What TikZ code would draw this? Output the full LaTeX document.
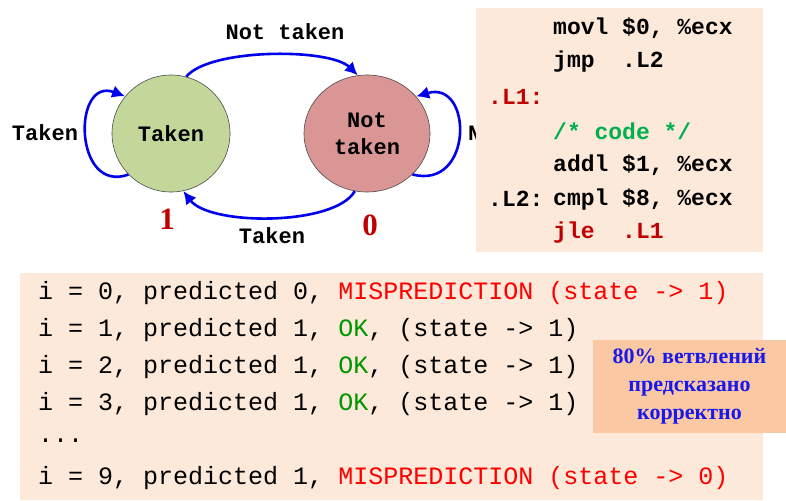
\documentclass[tikz,border=0pt]{standalone}
\usepackage{fontspec}
\setmainfont{Liberation Serif}
\setmonofont{Liberation Mono}
\usetikzlibrary{positioning,calc,shapes.geometric,arrows.meta}
\definecolor{TakenGreen}{RGB}{196,215,155}
\definecolor{NotRed}{RGB}{218,150,148}
\definecolor{CodeBg}{RGB}{253,233,217}
\definecolor{NoteBg}{RGB}{250,200,162}
\definecolor{AsmRed}{RGB}{192,0,0}
\definecolor{AsmGreen}{RGB}{0,176,80}
\definecolor{OkGreen}{RGB}{0,150,0}
\definecolor{MissRed}{RGB}{255,0,0}
\definecolor{EdgeBlue}{RGB}{0,0,235}
\definecolor{NoteBlue}{RGB}{25,25,235}
\tikzset{
  st/.style={ellipse,draw=black!70,line width=0.6pt,inner sep=0pt,align=center,
    minimum height=117pt,font=\ttfamily\bfseries\fontsize{22}{27}\selectfont},
  trans/.style={draw=EdgeBlue,line width=2.6pt,-{Latex[length=13pt,width=13pt]}},
  lbl/.style={font=\ttfamily\bfseries\fontsize{22}{26}\selectfont,inner sep=0pt},
  bitlbl/.style={font=\bfseries\fontsize{31}{34}\selectfont,text=AsmRed,inner sep=0pt},
  asm/.style={anchor=west,inner sep=0pt,font=\ttfamily\bfseries\fontsize{23}{26}\selectfont},
  trace/.style={anchor=west,inner sep=0pt,font=\ttfamily\fontsize{25}{28}\selectfont},
}

\begin{document}
\begin{tikzpicture}[x=1pt,y=-1pt]
  \useasboundingbox (0,0) rectangle (786,500);
  % states
  \node[st,fill=TakenGreen,minimum width=118pt] (T) at (171,133.5) {Taken};
  \node[st,fill=NotRed,minimum width=126pt] (N) at (367,133.5) {Not\\taken};
  % transitions
  \draw[trans] (T.75) .. controls (210,48) and (330,48) .. (N.99);
  \draw[trans] (N.258) .. controls (335,226) and (210,226) .. (T.282);
  \draw[trans] (T.224) .. controls +(-55,20) and +(-53,-20) .. (T.141);
  \draw[trans] (N.318) .. controls +(61,16) and +(57,-17) .. (N.37);
  \node[lbl] (nt) at (285,32) {Not taken};
  \node[lbl] (tl) at (45,133) {Taken};
  \node[lbl] (tb) at (272,236) {Taken};
  \begin{scope}
    \clip (460,110) rectangle (476,160);
    \node[lbl,anchor=west] (ntr) at (468,133) {Not taken};
  \end{scope}
  \node[bitlbl] (one) at (167,219) {1};
  \node[bitlbl] (zero) at (370,225) {0};
  % assembly
  \fill[CodeBg] (476,8) rectangle (763,252);
  \node[asm] (a1) at (553,28) {movl \$0, \%ecx};
  \node[asm] (a2) at (553,62) {jmp\ \ .L2};
  \node[asm,text=AsmRed] (l1) at (488,97) {.L1:};
  \node[asm,text=AsmGreen] (a3) at (553,131) {/* code */};
  \node[asm] (a4) at (553,165) {addl \$1, \%ecx};
  \node[asm] (l2) at (488,199) {.L2:};
  \node[asm] (a5) at (553,199) {cmpl \$8, \%ecx};
  \node[asm,text=AsmRed] (a6) at (553,233) {jle\ \ .L1};
  % trace
  \fill[CodeBg] (20,273) rectangle (763,500);
  \node[trace] (r0) at (38,293) {i = 0, predicted 0, \textcolor{MissRed}{MISPREDICTION (state -> 1)}};
  \node[trace] (r1) at (38,330) {i = 1, predicted 1, \textcolor{OkGreen}{OK}, (state -> 1)};
  \node[trace] (r2) at (38,367) {i = 2, predicted 1, \textcolor{OkGreen}{OK}, (state -> 1)};
  \node[trace] (r3) at (38,404) {i = 3, predicted 1, \textcolor{OkGreen}{OK}, (state -> 1)};
  \node[trace] (rd) at (38,441) {...};
  \node[trace] (r9) at (38,478) {i = 9, predicted 1, \textcolor{MissRed}{MISPREDICTION (state -> 0)}};
  \node[fill=NoteBg,minimum width=193pt,minimum height=93pt,align=center,text=NoteBlue,
    font=\bfseries\fontsize{22}{28}\selectfont] (note) at (689.5,386.5)
    {80\% ветвлений\\предсказано\\корректно};
\end{tikzpicture}
\end{document}
